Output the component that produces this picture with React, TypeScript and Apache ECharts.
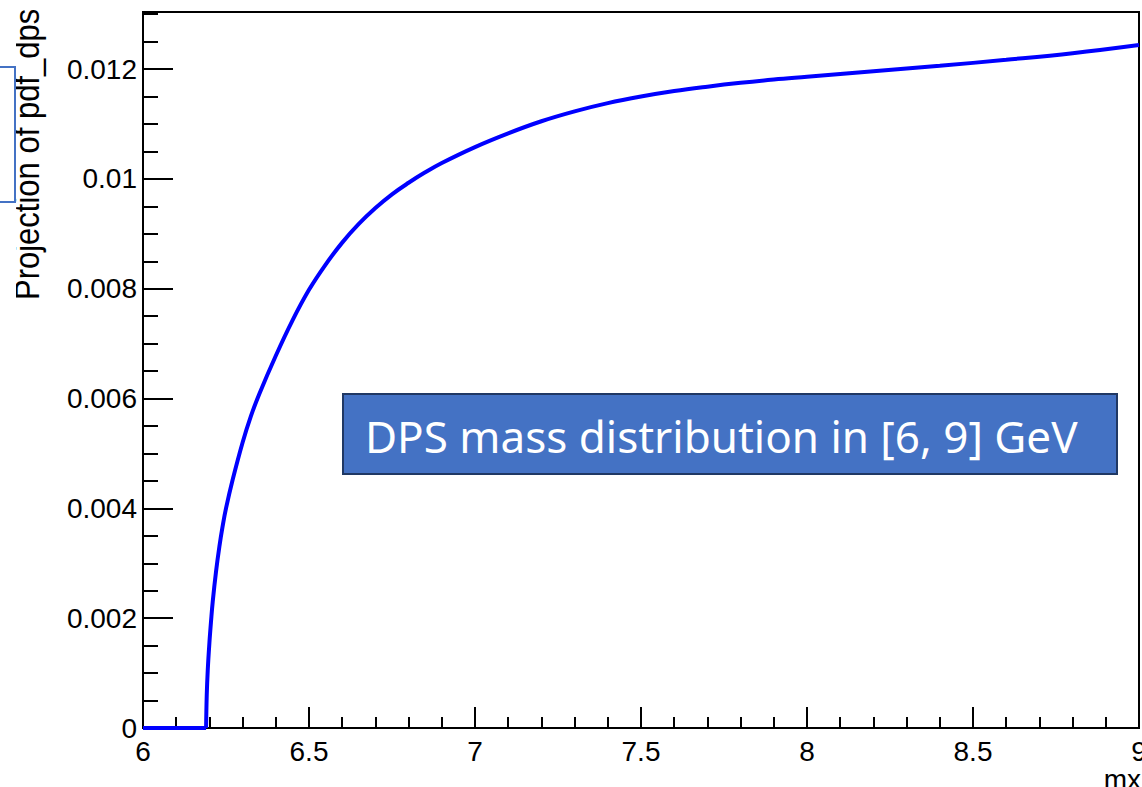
import React, { useEffect, useRef } from "react";
import * as echarts from "echarts";

// mass values (GeV) and projected pdf values
const flatX: number[] = [6.0, 6.19];
const flatY: number[] = [0, 0];
const massX: number[] = [
  6.19, 6.192, 6.195, 6.2, 6.205, 6.21, 6.22, 6.23, 6.24, 6.25, 6.27,
  6.3, 6.325, 6.35, 6.4, 6.45, 6.5, 6.55, 6.6, 6.65, 6.7, 6.75, 6.8, 6.85,
  6.9, 7.0, 7.1, 7.2, 7.3, 7.4, 7.5, 7.6, 7.7, 7.8, 7.9, 8.0, 8.2, 8.4,
  8.6, 8.8, 9.0,
];
const pdfY: number[] = [
  0, 0.0006, 0.00105, 0.00155, 0.00195, 0.0023, 0.00285, 0.0033, 0.00368,
  0.004, 0.00452, 0.0052, 0.00568, 0.00608, 0.00678, 0.00742, 0.00798,
  0.00844, 0.00884, 0.00918, 0.00947, 0.00972, 0.00993, 0.01012, 0.01029,
  0.01058, 0.01083, 0.01105, 0.01123, 0.01138, 0.0115, 0.0116, 0.01168,
  0.01175, 0.01181, 0.01186, 0.01196, 0.01206, 0.01217, 0.01229, 0.01244,
];

const xTitle = "mx";
const yTitle = "Projection of pdf_dps";
const boxText = "DPS mass distribution in [6, 9] GeV";

export default function App() {
  const ref = useRef<HTMLDivElement>(null);
  useEffect(() => {
    if (!ref.current) return;
    const chart = echarts.init(ref.current, undefined, { renderer: "svg" });
    const font = "'Liberation Sans', Arial, Helvetica, sans-serif";
    const lineStyle = { color: "#0000ff", width: 4 };
    chart.setOption({
      animation: false,
      backgroundColor: "#ffffff",
      grid: {
        left: 143,
        right: 3,
        top: 12,
        bottom: 59,
        outerBoundsMode: "none",
        containLabel: false,
        show: true,
        borderColor: "#000",
        borderWidth: 2,
        backgroundColor: "transparent",
      },
      xAxis: {
        type: "value",
        min: 6,
        max: 9,
        interval: 0.5,
        axisLine: { show: true, lineStyle: { color: "#000", width: 2 } },
        axisTick: { show: true, inside: true, length: 21, lineStyle: { color: "#000", width: 2 } },
        minorTick: { show: true, splitNumber: 5, length: 11, lineStyle: { color: "#000", width: 2 } },
        splitLine: { show: false },
        axisLabel: {
          color: "#000",
          fontFamily: font,
          fontSize: 28,
          margin: 9,
          formatter: (v: number) => String(parseFloat(v.toFixed(2))),
        },
      },
      yAxis: {
        type: "value",
        min: 0,
        max: 0.01304,
        interval: 0.002,
        axisLine: { show: true, lineStyle: { color: "#000", width: 2 } },
        axisTick: { show: true, inside: true, length: 30, lineStyle: { color: "#000", width: 2 } },
        minorTick: { show: true, splitNumber: 4, length: 15, lineStyle: { color: "#000", width: 2 } },
        splitLine: { show: false },
        axisLabel: {
          color: "#000",
          fontFamily: font,
          fontSize: 28,
          margin: 6,
          showMaxLabel: false,
          formatter: (v: number) => (v === 0 ? "0" : String(parseFloat(v.toFixed(4)))),
        },
      },
      series: [
        {
          type: "line",
          data: flatX.map((x, i) => [x, flatY[i]]),
          showSymbol: false,
          lineStyle,
        },
        {
          type: "line",
          data: massX.map((x, i) => [x, pdfY[i]]),
          showSymbol: false,
          smooth: 0.4,
          lineStyle,
        },
      ],
      graphic: [
        {
          type: "text",
          x: 1141,
          y: 765,
          style: {
            text: xTitle,
            fill: "#000",
            font: `28px ${font}`,
            textAlign: "right",
            textVerticalAlign: "top",
          },
        },
        {
          type: "text",
          x: 44,
          y: 300,
          rotation: Math.PI / 2,
          scaleY: 1.12,
          style: {
            text: yTitle,
            fill: "#000",
            font: `31px ${font}`,
            textAlign: "left",
            textVerticalAlign: "bottom",
          },
        },
        {
          type: "rect",
          shape: { x: 0, y: 0, width: 16, height: 787 },
          style: { fill: "#ffffff" },
        },
        {
          type: "rect",
          shape: { x: -6, y: 67, width: 21, height: 135 },
          style: { fill: "rgba(255,255,255,0)", stroke: "#4472C4", lineWidth: 2 },
        },
        {
          type: "rect",
          shape: { x: 343, y: 394, width: 774, height: 80 },
          style: { fill: "#4472C4", stroke: "#203864", lineWidth: 2 },
        },
        {
          type: "text",
          x: 365,
          y: 436,
          style: {
            text: boxText,
            fill: "#ffffff",
            font: `44px 'Noto Sans', sans-serif`,
            textAlign: "left",
            textVerticalAlign: "middle",
          },
        },
      ],
    });
    return () => chart.dispose();
  }, []);
  return (
    <div
      ref={ref}
      style={{ position: "absolute", left: 0, top: 0, width: 1142, height: 787 }}
    />
  );
}
